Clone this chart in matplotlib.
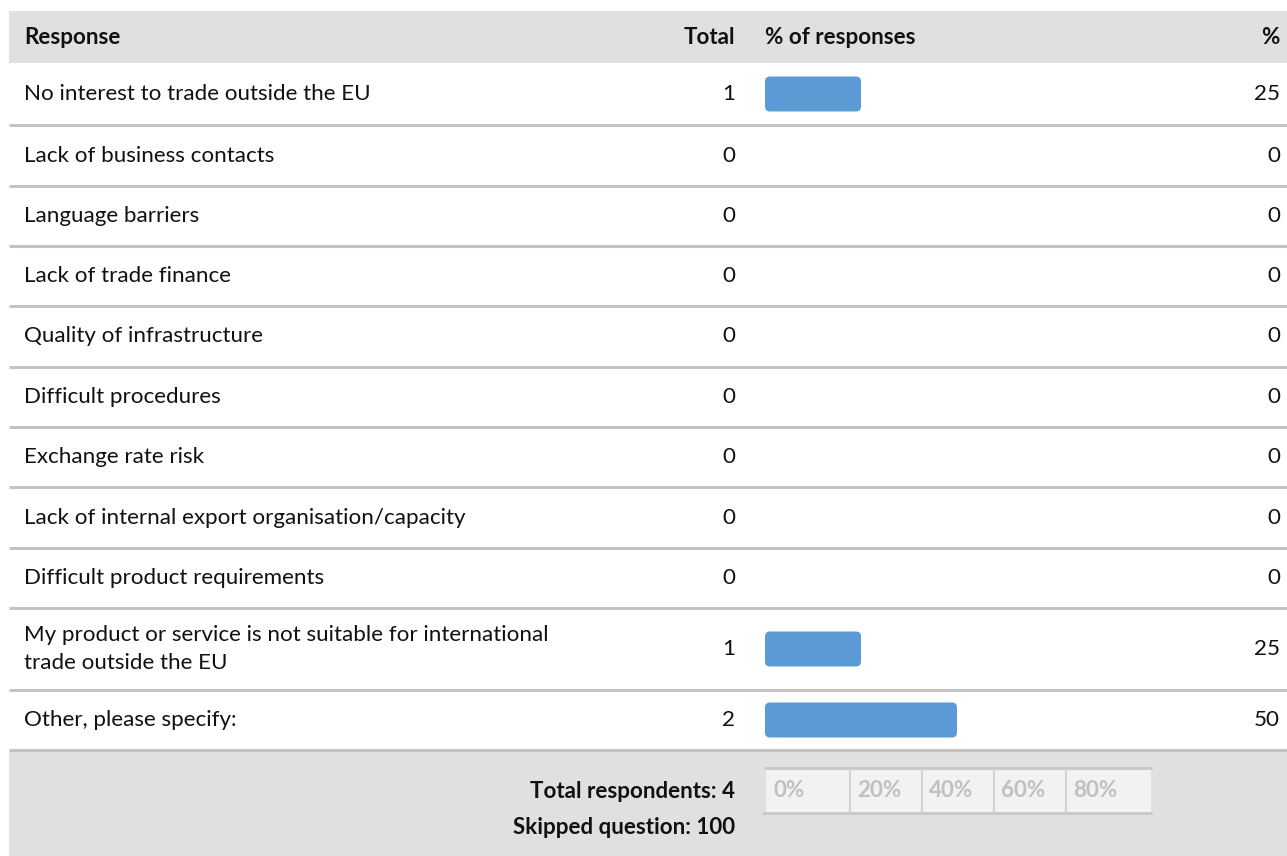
import matplotlib
matplotlib.use("Agg")
import matplotlib.pyplot as plt
from matplotlib.patches import Rectangle, FancyBboxPatch

# ---------------- data ----------------
responses = [
    "No interest to trade outside the EU",
    "Lack of business contacts",
    "Language barriers",
    "Lack of trade finance",
    "Quality of infrastructure",
    "Difficult procedures",
    "Exchange rate risk",
    "Lack of internal export organisation/capacity",
    "Difficult product requirements",
    "My product or service is not suitable for international\ntrade outside the EU",
    "Other, please specify:",
]
totals = [1, 0, 0, 0, 0, 0, 0, 0, 0, 1, 2]
percents = [25, 0, 0, 0, 0, 0, 0, 0, 0, 25, 50]
headers = ["Response", "Total", "% of responses", "%"]
scale_labels = ["0%", "20%", "40%", "60%", "80%"]
total_respondents = 4
skipped = 100

# ---------------- layout (pixels) ----------------
W, H = 1287, 856
row_edges = [63, 125, 186, 246, 306, 367, 427, 487, 548, 608, 690, 750]
header_top, header_bot = 11, 63
left_edge = 9
x_resp = 24
x_total = 735
x_bar0, x_bar100 = 765, 1149
x_pct = 1280
cell_edges_px = [766, 850, 922, 994, 1066, 1151]
box_top, box_bot = 768, 813

FONT = ["Lato", "DejaVu Sans"]
FS = 16.1
HEADER_GRAY = "#e0e0e0"
LINE = "#c3c3c3"
BAR = "#5b9bd5"
TEXT = "#111111"

fig = plt.figure(figsize=(W / 100, H / 100), dpi=100)
ax = fig.add_axes([0, 0, 1, 1])
ax.set_xlim(0, W)
ax.set_ylim(H, 0)
ax.axis("off")

# header
ax.add_patch(Rectangle((left_edge, header_top), W - left_edge, header_bot - header_top,
                       facecolor=HEADER_GRAY, edgecolor="none"))
hy = (header_top + header_bot) / 2
ax.text(x_resp, hy, headers[0], ha="left", va="center", fontsize=FS, fontweight="bold",
        family=FONT, color=TEXT)
ax.text(x_total, hy, headers[1], ha="right", va="center", fontsize=FS, fontweight="bold",
        family=FONT, color=TEXT)
ax.text(x_bar0, hy, headers[2], ha="left", va="center", fontsize=FS, fontweight="bold",
        family=FONT, color=TEXT)
ax.text(x_pct, hy, headers[3], ha="right", va="center", fontsize=FS, fontweight="bold",
        family=FONT, color=TEXT)

# footer
ax.add_patch(Rectangle((left_edge, row_edges[-1]), W - left_edge, H - row_edges[-1],
                       facecolor=HEADER_GRAY, edgecolor="none"))

# rows
for i, (lab, tot, pct) in enumerate(zip(responses, totals, percents)):
    y0, y1 = row_edges[i], row_edges[i + 1]
    yc = (y0 + y1) / 2
    ax.text(x_resp, yc, lab, ha="left", va="center", fontsize=FS, family=FONT,
            color=TEXT, linespacing=1.55)
    ax.text(x_total, yc, str(tot), ha="right", va="center", fontsize=FS, family=FONT, color=TEXT)
    ax.text(x_pct, yc, str(pct), ha="right", va="center", fontsize=FS, family=FONT, color=TEXT)
    ax.plot([left_edge, W], [y1, y1], color=LINE, lw=2.2, solid_capstyle="butt")

# bar axes: x in percent
axb = fig.add_axes([x_bar0 / W, 0, (x_bar100 - x_bar0) / W, 1])
axb.set_xlim(0, 100)
axb.set_ylim(H, 0)
axb.axis("off")
px_per_unit = (x_bar100 - x_bar0) / 100.0
bar_h = 35
for i, pct in enumerate(percents):
    if pct <= 0:
        continue
    yc = (row_edges[i] + row_edges[i + 1]) / 2
    r = 5 / px_per_unit
    axb.add_patch(FancyBboxPatch((0, yc - bar_h / 2), pct, bar_h,
                                 boxstyle=f"round,pad=0,rounding_size={r}",
                                 mutation_aspect=px_per_unit,
                                 facecolor=BAR, edgecolor="none"))

# scale box
ax.add_patch(Rectangle((cell_edges_px[0], box_top), cell_edges_px[-1] - cell_edges_px[0],
                       box_bot - box_top, facecolor="#f2f2f2", edgecolor="none"))
ax.plot([cell_edges_px[0], cell_edges_px[-1]], [box_top, box_top], color="#c8c8c8", lw=2)
ax.plot([cell_edges_px[0] - 2, cell_edges_px[-1]], [box_bot, box_bot], color="#c8c8c8", lw=2)
for xe in cell_edges_px[1:-1]:
    ax.plot([xe, xe], [box_top, box_bot], color="#d0d0d0", lw=1.3)
for xe, lab in zip(cell_edges_px[:-1], scale_labels):
    ax.text(xe + 7, (box_top + box_bot) / 2, lab, ha="left", va="center", fontsize=FS,
            fontweight="bold", family=FONT, color="#c0c0c0")

ax.text(x_total, 792, f"Total respondents: {total_respondents}", ha="right", va="center",
        fontsize=FS, fontweight="bold", family=FONT, color=TEXT)
ax.text(x_total, 828, f"Skipped question: {skipped}", ha="right", va="center",
        fontsize=FS, fontweight="bold", family=FONT, color=TEXT)

fig.savefig("out.png", dpi=100)
